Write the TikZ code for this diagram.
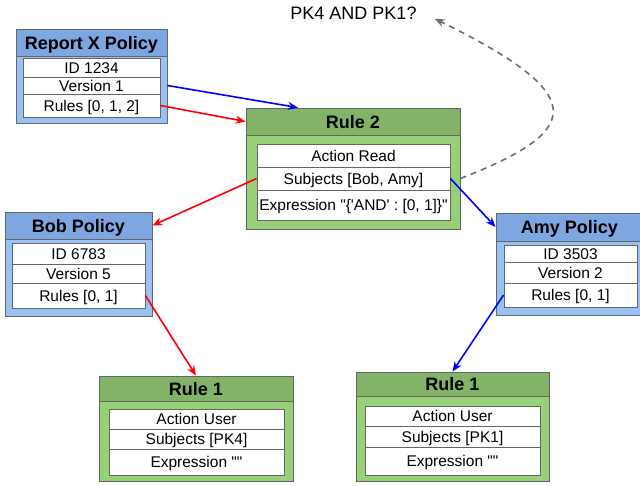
\documentclass[tikz,border=0pt]{standalone}
\usepackage{fontspec}
\newfontfamily\diagfont{Liberation Sans}
\usetikzlibrary{arrows.meta}
\definecolor{polhd}{HTML}{7EA6E0}
\definecolor{polfill}{HTML}{99C1F3}
\definecolor{rulehd}{HTML}{82B366}
\definecolor{rulefill}{HTML}{97D077}
\definecolor{boxline}{HTML}{666666}
\definecolor{hintgray}{HTML}{707070}
\begin{document}
\begin{tikzpicture}[x=1pt,y=-1pt,font=\diagfont,
    frame/.style={draw=boxline,line width=0.8pt,inner sep=0pt},
    polbox/.style={frame,fill=polfill},
    polhead/.style={frame,fill=polhd,text height=13pt,text depth=0pt,
      font=\diagfont\fontsize{18}{20}\selectfont\bfseries},
    rulebox/.style={frame,fill=rulefill},
    rulehead/.style={frame,fill=rulehd,text height=13pt,text depth=0pt,
      font=\diagfont\fontsize{18}{20}\selectfont\bfseries},
    row/.style={frame,fill=white,text height=11pt,text depth=0pt,
      font=\diagfont\fontsize{15.5}{17}\selectfont},
    link/.style={line width=1.6pt,-{Stealth[length=10pt,width=8pt]}},
    hintlink/.style={line width=1.6pt,draw=hintgray,dash pattern=on 6pt off 5pt,
      -{Stealth[length=10pt,width=8pt,fill=hintgray]}}]
    \clip (0,0) rectangle (640,485);
    \fill[white] (0,0) rectangle (640,485);
    % Report X Policy
    \node [polbox,minimum width=151pt,minimum height=94pt] (rx) at (91.5,76) {};
    \node [polhead,minimum width=151pt,minimum height=27pt] (rx-title) at (91.5,42.5) {Report X Policy};
    \node [row,minimum width=137pt,minimum height=19pt] (rx-id) at (91.5,67.5) {ID 1234};
    \node [row,minimum width=137pt,minimum height=17pt] (rx-version) at (91.5,85.5) {Version 1};
    \node [row,minimum width=137pt,minimum height=23pt] (rx-rules) at (91.5,105.5) {Rules [0, 1, 2]};
    % Rule 2
    \node [rulebox,minimum width=214pt,minimum height=121pt] (r2) at (353,168.5) {};
    \node [rulehead,minimum width=214pt,minimum height=27pt] (r2-title) at (353,121.5) {Rule 2};
    \node [row,minimum width=193pt,minimum height=23pt] (r2-action) at (353.5,155.5) {Action Read};
    \node [row,minimum width=193pt,minimum height=23pt] (r2-subj) at (353.5,178.5) {Subjects [Bob, Amy]};
    \node [row,minimum width=193pt,minimum height=30pt] (r2-expr) at (353.5,205) {Expression "\{'AND' : [0, 1]\}"};
    % Bob Policy
    \node [polbox,minimum width=147pt,minimum height=104pt] (bob) at (78.5,264) {};
    \node [polhead,minimum width=147pt,minimum height=27pt] (bob-title) at (78.5,225.5) {Bob Policy};
    \node [row,minimum width=133pt,minimum height=21pt] (bob-id) at (78.5,253.5) {ID 6783};
    \node [row,minimum width=133pt,minimum height=19pt] (bob-version) at (78.5,273.5) {Version 5};
    \node [row,minimum width=133pt,minimum height=25pt] (bob-rules) at (78.5,295.5) {Rules [0, 1]};
    % Amy Policy
    \node [polbox,minimum width=147pt,minimum height=102pt] (amy) at (569.5,264) {};
    \node [polhead,minimum width=147pt,minimum height=28pt] (amy-title) at (569.5,227) {Amy Policy};
    \node [row,minimum width=133pt,minimum height=17pt] (amy-id) at (570.5,253.5) {ID 3503};
    \node [row,minimum width=133pt,minimum height=21pt] (amy-version) at (570.5,272.5) {Version 2};
    \node [row,minimum width=133pt,minimum height=24pt] (amy-rules) at (570.5,295) {Rules [0, 1]};
    % Rule 1 (left)
    \node [rulebox,minimum width=194pt,minimum height=105pt] (r1a) at (196,428.5) {};
    \node [rulehead,minimum width=194pt,minimum height=25pt] (r1a-title) at (196,388.5) {Rule 1};
    \node [row,minimum width=175pt,minimum height=20pt] (r1a-action) at (196.5,419) {Action User};
    \node [row,minimum width=175pt,minimum height=20pt] (r1a-subj) at (196.5,439) {Subjects [PK4]};
    \node [row,minimum width=175pt,minimum height=26pt] (r1a-expr) at (196.5,462) {Expression ""};
    % Rule 1 (right)
    \node [rulebox,minimum width=193pt,minimum height=109pt] (r1b) at (452.5,426.5) {};
    \node [rulehead,minimum width=193pt,minimum height=24pt] (r1b-title) at (452.5,384) {Rule 1};
    \node [row,minimum width=175pt,minimum height=20pt] (r1b-action) at (452.5,416) {Action User};
    \node [row,minimum width=175pt,minimum height=21pt] (r1b-subj) at (452.5,436.5) {Subjects [PK1]};
    \node [row,minimum width=175pt,minimum height=28pt] (r1b-expr) at (452.5,461) {Expression ""};
    % question
    \node [font=\diagfont\fontsize{18}{20}\selectfont,inner sep=0pt,text height=13pt,text depth=0pt] (pk) at (353.5,12.7) {PK4 AND PK1?};
    % links
    \draw [link,blue] (rx.east |- rx-version) -- ([xshift=-55pt]r2-title.north);
    \draw [link,red] (rx-rules.east) -- (r2-title.west);
    \draw [link,red] (r2-subj.west) -- (bob-title.east);
    \draw [link,red] (bob-rules.east) -- (r1a-title.north);
    \draw [link,blue] (r2-subj.east) -- (amy-title.west);
    \draw [link,blue] (amy-rules.west) -- (r1b-title.north);
    \draw [hintlink] (r2.east |- r2-subj) .. controls (585,130) and (590,95) .. ([shift={(18pt,-6pt)}]pk.east);
\end{tikzpicture}
\end{document}
